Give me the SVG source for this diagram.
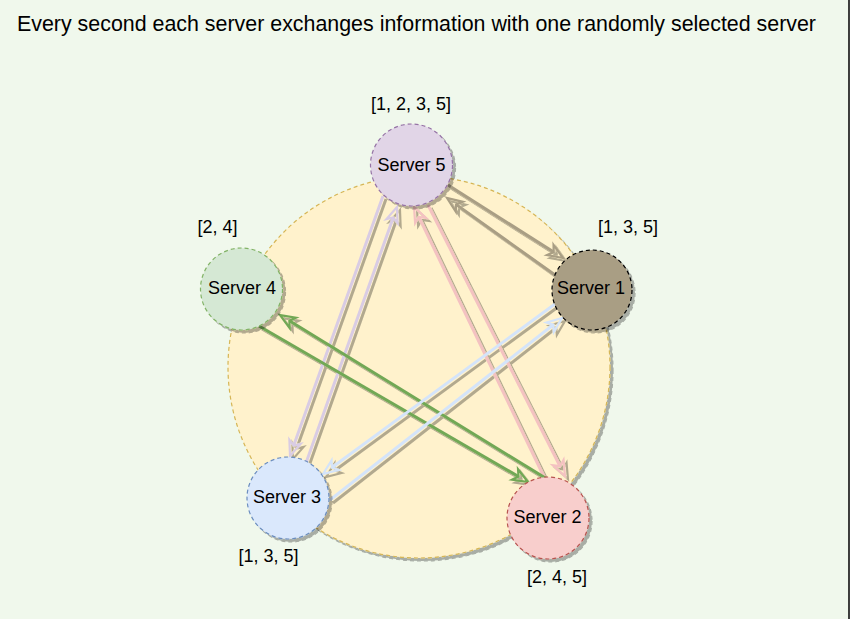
<svg xmlns="http://www.w3.org/2000/svg" width="859" height="619" viewBox="0 0 859 619">
<defs>
<style>
text{font-family:"Liberation Sans",Arial,sans-serif;fill:#000;text-anchor:middle}
.title{font-size:21.4px}
.lbl{font-size:18px}
.srv{stroke-width:1.2;stroke-dasharray:4 3}
.ln{fill:none;stroke-width:3}
.ah{fill:none;stroke-width:2.2}
</style>
<filter id="sh" filterUnits="userSpaceOnUse" x="0" y="0" width="859" height="619">
<feDropShadow dx="3" dy="3" stdDeviation="0.7" flood-color="#000" flood-opacity="0.3"/>
</filter>
<marker id="mK" markerUnits="userSpaceOnUse" markerWidth="18" markerHeight="15" refX="5" refY="7" orient="auto" overflow="visible"><path class="ah" d="M1,1 L16,7 L1,13 L5,7 Z" stroke="#a99e84"/></marker>
<marker id="mP" markerUnits="userSpaceOnUse" markerWidth="18" markerHeight="15" refX="5" refY="7" orient="auto" overflow="visible"><path class="ah" d="M1,1 L16,7 L1,13 L5,7 Z" stroke="#d9cce4"/></marker>
<marker id="mR" markerUnits="userSpaceOnUse" markerWidth="18" markerHeight="15" refX="5" refY="7" orient="auto" overflow="visible"><path class="ah" d="M1,1 L16,7 L1,13 L5,7 Z" stroke="#f4c2c1"/></marker>
<marker id="mG" markerUnits="userSpaceOnUse" markerWidth="18" markerHeight="15" refX="5" refY="7" orient="auto" overflow="visible"><path class="ah" d="M1,1 L16,7 L1,13 L5,7 Z" stroke="#72a855"/></marker>
<marker id="mB" markerUnits="userSpaceOnUse" markerWidth="18" markerHeight="15" refX="5" refY="7" orient="auto" overflow="visible"><path class="ah" d="M1,1 L16,7 L1,13 L5,7 Z" stroke="#d4e4fa"/></marker>
</defs>
<rect x="0" y="0" width="859" height="619" fill="#ffffff"/>
<rect x="-2" y="-2" width="851" height="624" fill="#f0f8ec" stroke="#000" stroke-width="1.5"/>
<text class="title" x="416.5" y="31">Every second each server exchanges information with one randomly selected server</text>
<g id="ring" filter="url(#sh)">
<circle cx="419" cy="367" r="191" fill="#fff2cc" stroke="#d6b656" stroke-width="1.2" stroke-dasharray="4 3"/>
</g>
<g id="connectors" filter="url(#sh)">
<path class="ln" stroke="#a99e84" d="M448,185 L553.7,252.1" marker-end="url(#mK)"/>
<path class="ln" stroke="#a99e84" d="M555,275 L456,204.4" marker-end="url(#mK)"/>
<path class="ln" stroke="#d9cce4" d="M383,196 L293.7,445.6" marker-end="url(#mP)"/>
<path class="ln" stroke="#d9cce4" d="M306,463 L393.3,217.4" marker-end="url(#mP)"/>
<path class="ln" stroke="#f4c2c1" stroke-width="2.5" d="M545,479 L418.8,216.9" marker-end="url(#mR)"/>
<path class="ln" stroke="#f4c2c1" stroke-width="2.5" d="M428,205 L560,466.2" marker-end="url(#mR)"/>
<path class="ln" stroke="#72a855" d="M259,326 L518.5,476.5" marker-end="url(#mG)"/>
<path class="ln" stroke="#72a855" d="M547,479 L289.4,320.8" marker-end="url(#mG)"/>
<path class="ln" stroke="#d4e4fa" d="M555,304 L331.9,467.5" marker-end="url(#mB)"/>
<path class="ln" stroke="#d4e4fa" d="M330,500 L553.3,324.8" marker-end="url(#mB)"/>
</g>
<g id="server5">
<circle class="srv" cx="411.5" cy="165" r="41" fill="#e1d5e7" stroke="#9673a6" filter="url(#sh)"/>
<text class="lbl" x="411.5" y="171">Server 5</text>
</g>
<g id="server1">
<circle class="srv" cx="592" cy="290" r="40" fill="#a99e84" stroke="#000" filter="url(#sh)"/>
<text class="lbl" x="591" y="294">Server 1</text>
</g>
<g id="server4">
<circle class="srv" cx="241.5" cy="289" r="41" fill="#d5e8d4" stroke="#82b366" filter="url(#sh)"/>
<text class="lbl" x="242" y="294">Server 4</text>
</g>
<g id="server3">
<circle class="srv" cx="288" cy="498" r="41" fill="#dae8fc" stroke="#6c8ebf" filter="url(#sh)"/>
<text class="lbl" x="287" y="503">Server 3</text>
</g>
<g id="server2">
<circle class="srv" cx="548" cy="518" r="41" fill="#f8cecc" stroke="#b85450" filter="url(#sh)"/>
<text class="lbl" x="547.5" y="523">Server 2</text>
</g>
<g id="labels">
<text class="lbl" x="411" y="110">[1, 2, 3, 5]</text>
<text class="lbl" x="628" y="233">[1, 3, 5]</text>
<text class="lbl" x="217.5" y="233">[2, 4]</text>
<text class="lbl" x="268.5" y="562">[1, 3, 5]</text>
<text class="lbl" x="557" y="583">[2, 4, 5]</text>
</g>
</svg>
